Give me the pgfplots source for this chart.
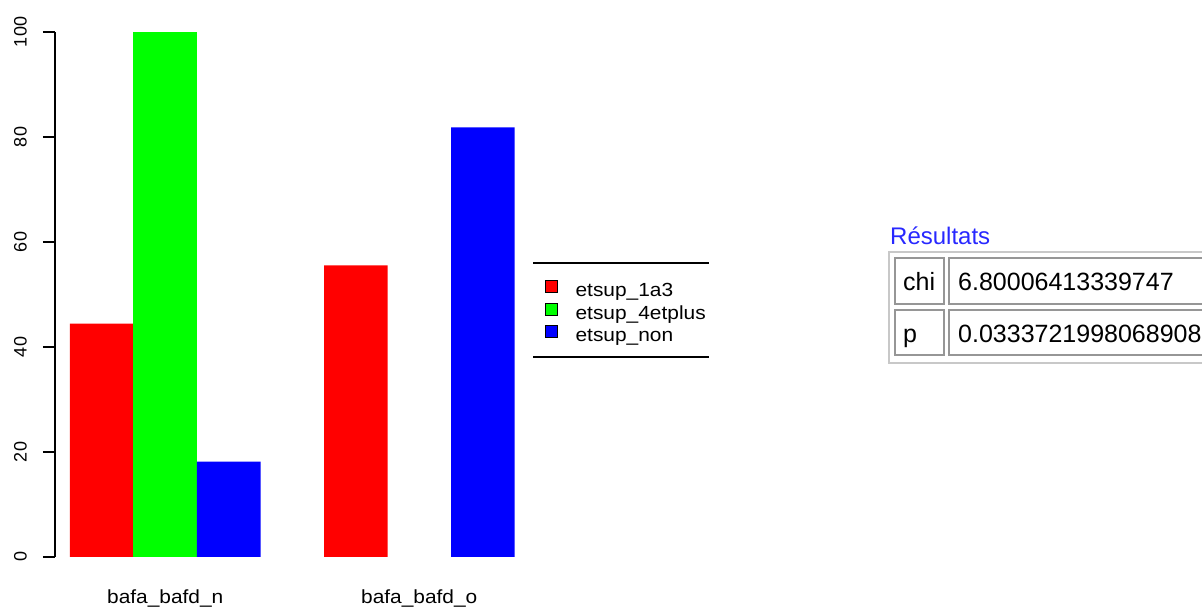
\documentclass[border=0pt]{standalone}
\usepackage{fontspec}
\setmainfont{Liberation Sans}
\usepackage{graphicx}
\usepackage{pgfplots}
\pgfplotsset{compat=1.18}
\newcommand{\wide}[1]{\scalebox{1.1}[1]{#1}}
\definecolor{restitle}{RGB}{40,40,255}
\definecolor{cellgray}{RGB}{150,150,150}
\definecolor{outergray}{RGB}{200,200,200}
\begin{document}
\begin{tikzpicture}
\useasboundingbox (0,0) rectangle (1202pt,609pt);
\begin{axis}[
  at={(55pt,52pt)}, anchor=south west,
  scale only axis, width=477.3pt, height=525pt,
  xmin=0.764, xmax=8.28, ymin=0, ymax=100,
  clip=false,
  axis lines*=left,
  x axis line style={draw=none},
  y axis line style={-, line width=1.5pt},
  xtick={2.5,6.5},
  xticklabels={\wide{bafa\_bafd\_n},\wide{bafa\_bafd\_o}},
  xtick style={draw=none},
  xticklabel style={font=\fontsize{19}{22}\selectfont, anchor=base, inner sep=0pt, yshift=-35pt},
  ytick={0,20,...,100},
  tick align=outside,
  major tick length=12pt,
  ytick style={line width=1.5pt, black},
  yticklabel style={font=\fontsize{18}{21}\selectfont, xshift=-16pt, rotate=90, anchor=south, inner sep=0pt},
  /pgf/number format/assume math mode=true,
  legend style={at={(1.0266,0.5276)}, anchor=north west, draw=none, fill=none,
    inner sep=0pt, outer sep=0pt, row sep=2pt,
    font=\fontsize{19}{22}\selectfont,
    nodes={inner sep=0pt, text height=14pt, text depth=4pt}},
  legend cell align=left,
  legend image code/.code={%
    \path[draw=none, fill=none] (0pt,0pt) -- (30pt,0pt);
    \draw[#1, draw=black, line width=1.2pt] (0pt,-1pt) rectangle (12pt,11pt);},
]
% group 1: bafa_bafd_n (x 1..4), group 2: bafa_bafd_o (x 5..8); etsup_4etplus is 0 in group 2
\addplot[ybar, bar width=1, bar shift=0pt, fill=red, draw=none]
  coordinates {(1.5,44.44) (5.5,55.56)};
\addlegendentry{\wide{etsup\_1a3}}
\addplot[ybar, bar width=1, bar shift=0pt, fill=green, draw=none]
  coordinates {(2.5,100)};
\addlegendentry{\wide{etsup\_4etplus}}
\addplot[ybar, bar width=1, bar shift=0pt, fill=blue, draw=none]
  coordinates {(3.5,18.18) (7.5,81.82)};
\addlegendentry{\wide{etsup\_non}}
\end{axis}
% legend rules
\draw[line width=1.5pt] (533pt,346pt) -- (709pt,346pt);
\draw[line width=1.5pt] (533pt,252pt) -- (709pt,252pt);
% results table
\node[anchor=base west, inner sep=0pt, text=restitle, font=\fontsize{24}{28}\selectfont] at (890pt,364pt) {Résultats};
\draw[outergray, line width=2pt] (889pt,246pt) rectangle (1230pt,357pt);
\draw[cellgray, line width=1.5pt] (895pt,305pt) rectangle (944pt,351pt);
\draw[cellgray, line width=1.5pt] (949pt,305pt) rectangle (1230pt,351pt);
\draw[cellgray, line width=1.5pt] (895pt,254pt) rectangle (944pt,299pt);
\draw[cellgray, line width=1.5pt] (949pt,254pt) rectangle (1230pt,299pt);
\begin{scope}[every node/.style={anchor=base west, inner sep=0pt, font=\fontsize{25}{30}\selectfont}]
\node at (903pt,318pt) {chi};
\node at (958pt,318pt) {6.80006413339747};
\node at (903pt,266pt) {p};
\node at (958pt,266pt) {0.0333721998068908};
\end{scope}
\end{tikzpicture}
\end{document}
